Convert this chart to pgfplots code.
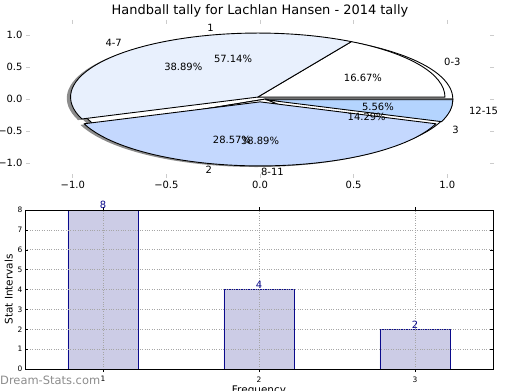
\documentclass[border=0pt]{standalone}
\usepackage{pgfplots}
\pgfplotsset{compat=1.18}
\usepackage{fontspec}
\setmainfont{DejaVu Sans}
\definecolor{paleA}{RGB}{232,240,253}
\definecolor{blueB}{RGB}{196,216,254}
\definecolor{blueC}{RGB}{180,212,254}
\definecolor{barfill}{RGB}{204,204,230}
\definecolor{navy}{RGB}{10,10,140}
\definecolor{shadowgray}{RGB}{140,140,140}
% counts
\def\cA{3}\def\cB{7}\def\cC{7}\def\cD{1}   % 0-3, 4-7, 8-11, 12-15
\def\dA{8}\def\dB{4}\def\dC{2}             % 1, 2, 3
\pgfmathsetmacro\totA{\cA+\cB+\cC+\cD}
\pgfmathsetmacro\aA{360*\cA/\totA}
\pgfmathsetmacro\aB{\aA+360*\cB/\totA}
\pgfmathsetmacro\aC{\aB+360*\cC/\totA}
\pgfmathsetmacro\totB{\dA+\dB+\dC}
\pgfmathsetmacro\bA{360*\dA/\totB}
\pgfmathsetmacro\bB{\bA+360*\dB/\totB}
% wedge: #1 cx, #2 cy, #3 start, #4 end, #5 style
\newcommand\pieWedge[5]{%
  \path[#5] (axis cs:#1,#2) -- ++(axis direction cs:{cos(#3)},{sin(#3)})
    arc[start angle=#3, end angle=#4, x radius=187.2bp, y radius=64.019bp] -- cycle;}
\tikzset{wedgeline/.style={draw=black, line width=0.9pt, line join=round}}
\begin{document}
\begin{tikzpicture}[x=1bp,y=1bp]
\useasboundingbox (0,0) rectangle (520,390);
\node[anchor=base, font=\fontsize{13}{15}\selectfont] at (260,376) {Handball tally for Lachlan Hansen - 2014 tally};
\begin{axis}[
  at={(26bp,212bp)}, anchor=south west, scale only axis,
  width=468bp, height=158bp,
  xmin=-1.25, xmax=1.25, ymin=-1.234, ymax=1.234,
  axis line style={draw=none},
  xtick={-1,-0.5,0,0.5,1}, xticklabels={−1.0,−0.5,0.0,0.5,1.0},
  ytick={-1,-0.5,0,0.5,1}, yticklabels={−1.0,−0.5,0.0,0.5,1.0},
  tick align=inside, major tick length=4bp,
  tick style={color=black!20, line width=0.9pt},
  ticklabel style={font=\fontsize{10}{12}\selectfont},
  clip=false,
]
% shadows
\pieWedge{0.008}{-0.022}{0}{\bA}{fill=shadowgray}
\pieWedge{0.008}{-0.022}{\bA}{\bB}{fill=shadowgray}
\pieWedge{0.008}{-0.022}{\bB}{360}{fill=shadowgray}
\pieWedge{-0.032}{0.012}{0}{\aA}{fill=shadowgray}
\pieWedge{-0.032}{0.012}{\aA}{\aB}{fill=shadowgray}
\pieWedge{-0.02}{-0.062}{\aB}{\aC}{fill=shadowgray}
\pieWedge{0.008}{-0.030}{\aC}{360}{fill=shadowgray}
% second pie (1, 2, 3)
\pieWedge{0.03}{0}{0}{\bA}{fill=white,wedgeline}
\pieWedge{0.03}{0}{\bA}{\bB}{fill=white,wedgeline}
\pieWedge{0.03}{0}{\bB}{360}{fill=white,wedgeline}
% first pie (0-3, 4-7, 8-11, 12-15)
\pieWedge{-0.012}{0.03}{0}{\aA}{fill=white,wedgeline}
\pieWedge{-0.012}{0.03}{\aA}{\aB}{fill=paleA,wedgeline}
\pieWedge{0}{-0.045}{\aB}{\aC}{fill=blueB,wedgeline}
\pieWedge{0.03}{-0.012}{\aC}{360}{fill=blueC,wedgeline}
% labels
\begin{scope}[every node/.style={font=\fontsize{10}{12}\selectfont, inner sep=0pt}]
\node[anchor=east] at (axis cs:-0.246,1.11) {1};
\node[anchor=east] at (axis cs:-0.737,0.875) {4-7};
\node[anchor=west] at (axis cs:0.983,0.578) {0-3};
\node[anchor=west] at (axis cs:1.116,-0.19) {12-15};
\node[anchor=west] at (axis cs:1.026,-0.48) {3};
\node[anchor=east] at (axis cs:-0.256,-1.11) {2};
\node[anchor=west] at (axis cs:0.005,-1.14) {8-11};
\node at (axis cs:-0.144,0.625) {57.14\%};
\node at (axis cs:-0.41,0.5) {38.89\%};
\node at (axis cs:0.55,0.33) {16.67\%};
\node at (axis cs:0.63,-0.125) {5.56\%};
\node at (axis cs:0.57,-0.28) {14.29\%};
\node at (axis cs:-0.15,-0.64) {28.57\%};
\node at (axis cs:0.0,-0.656) {38.89\%};
\end{scope}
\end{axis}
\begin{axis}[
  at={(25bp,21bp)}, anchor=south west, scale only axis,
  width=468bp, height=159bp,
  xmin=0.5, xmax=3.5, ymin=0, ymax=8,
  xtick={1,2,3}, ytick={0,1,...,8},
  /pgf/number format/assume math mode=true,
  grid=major, grid style={dotted, black!35, line width=0.7pt},
  axis on top,
  tick align=inside, major tick length=3bp,
  tick style={color=black, line width=0.5pt},
  axis line style={line width=0.8pt},
  ticklabel style={font=\fontsize{7.5}{9}\selectfont},
  xticklabel style={yshift=-1bp},
  yticklabel style={xshift=1bp},
  xlabel={Frequency}, ylabel={Stat Intervals},
  label style={font=\fontsize{10.5}{12}\selectfont},
  xlabel style={yshift=3bp},
  ylabel style={yshift=-2bp},
  ybar, bar width=0.45,
  nodes near coords,
  nodes near coords style={font=\fontsize{10}{12}\selectfont, text=navy, anchor=south, inner sep=0.5bp},
  clip=false,
]
\addplot[fill=barfill, draw=navy, line width=0.8pt] coordinates {(1,8) (2,4) (3,2)};
\end{axis}
\node[anchor=base west, text=black!45, font=\fontsize{11.5}{13}\selectfont, inner sep=0pt] at (0,5.5) {Dream-Stats.com};
\end{tikzpicture}
\end{document}
